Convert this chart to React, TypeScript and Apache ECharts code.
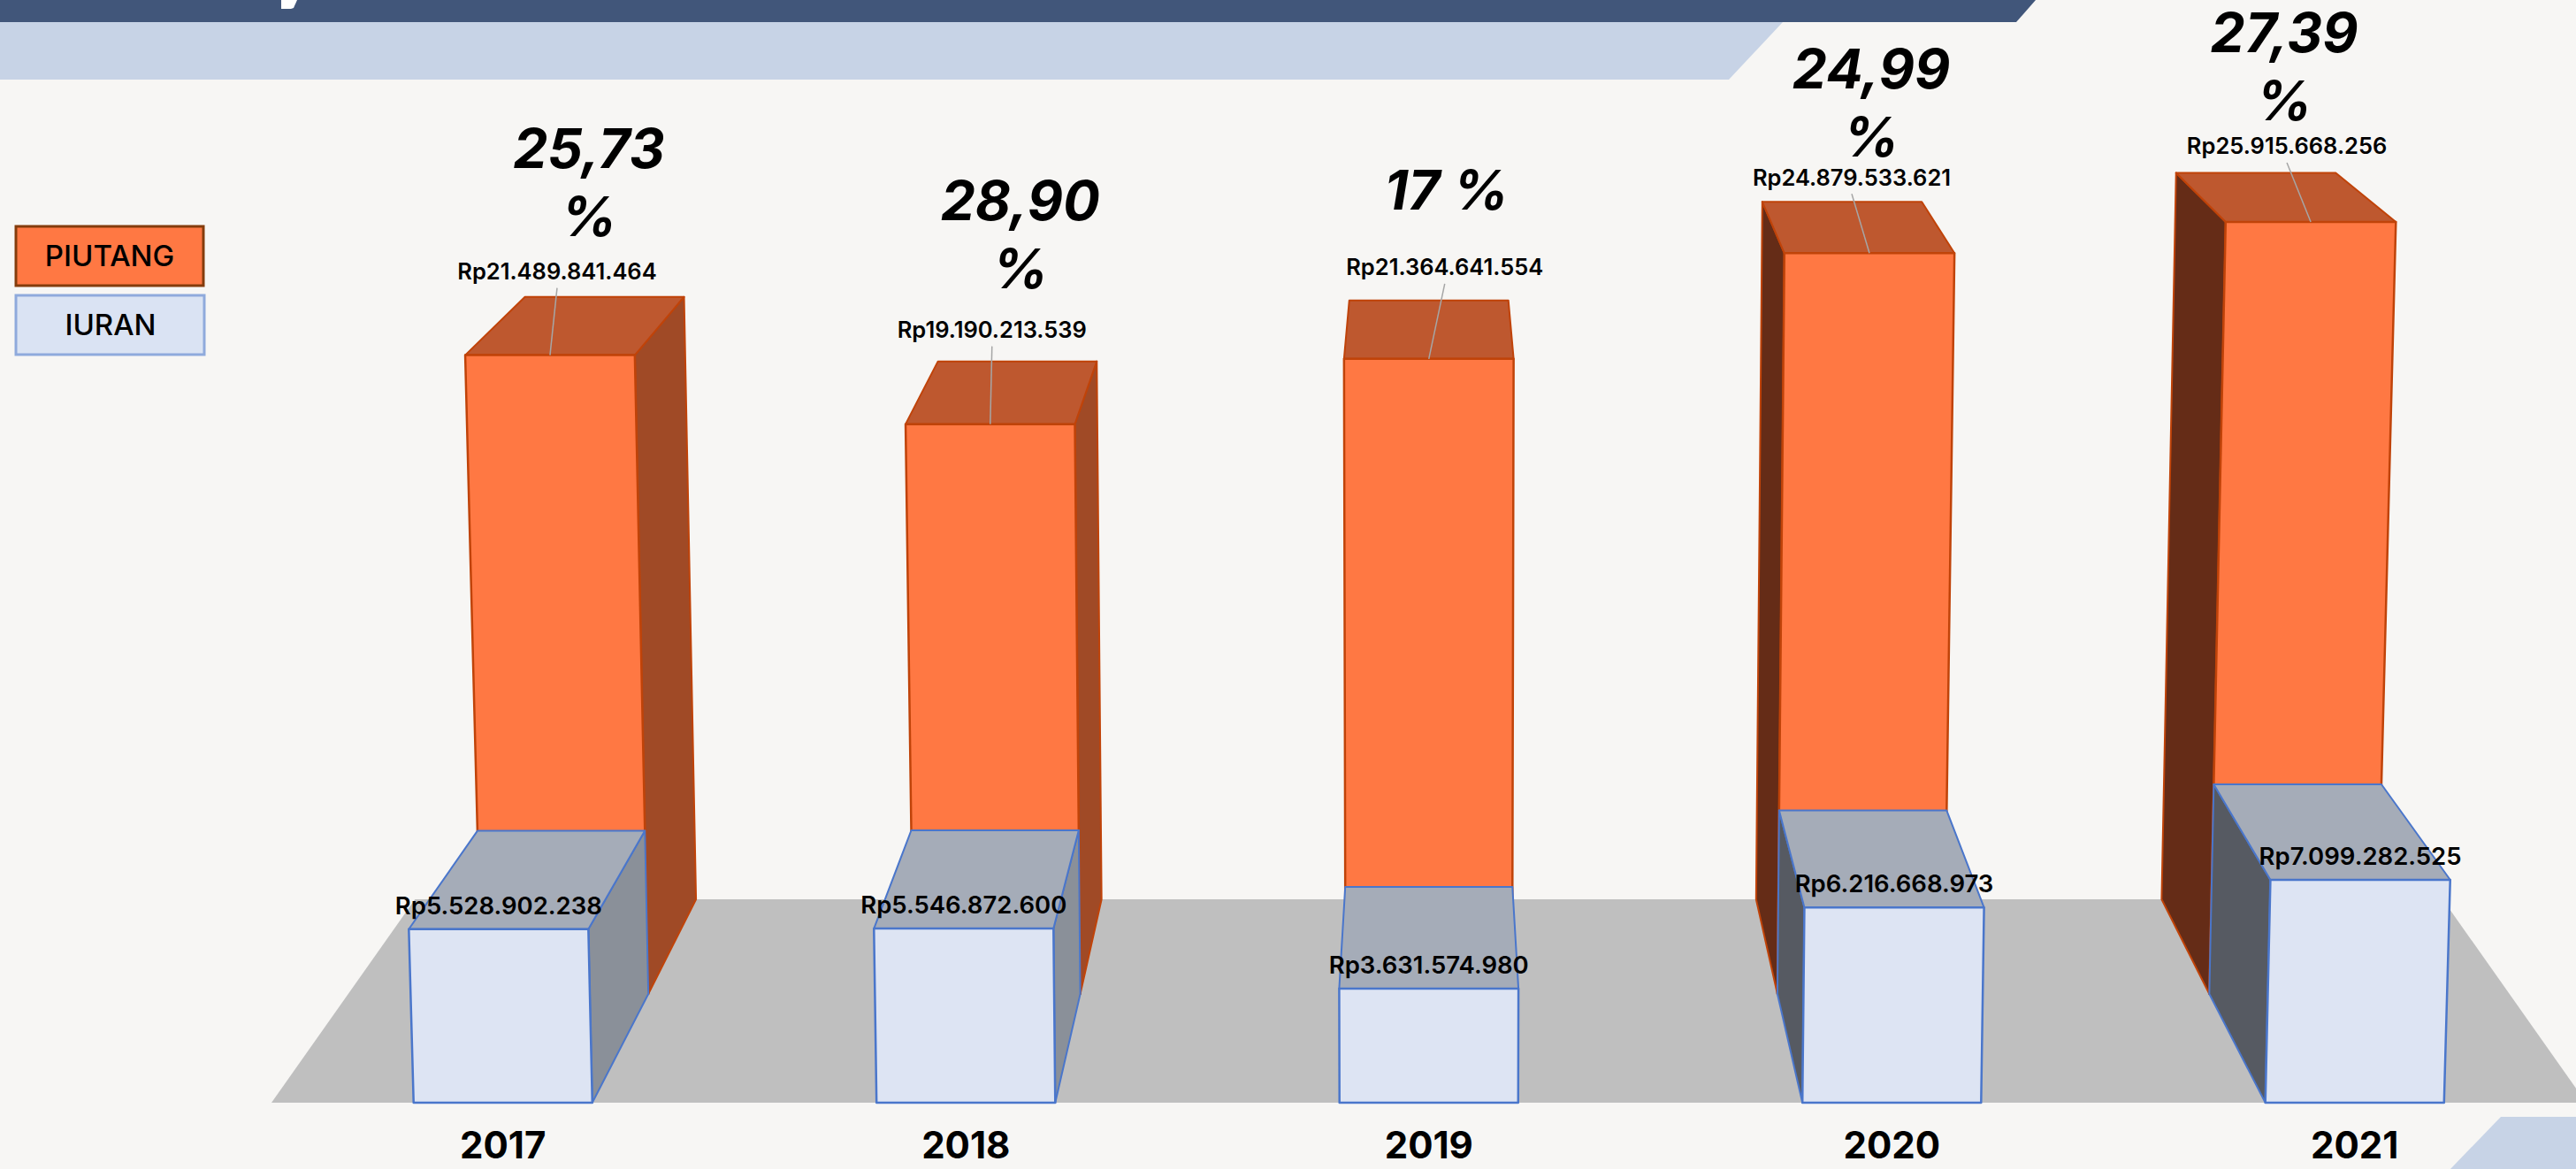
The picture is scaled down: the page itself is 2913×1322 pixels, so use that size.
import React, { useEffect, useRef } from "react";
import * as echarts from "echarts";

const years = ["2017", "2018", "2019", "2020", "2021"];
const piutang = [21489841464, 19190213539, 21364641554, 24879533621, 25915668256];
const iuran = [5528902238, 5546872600, 3631574980, 6216668973, 7099282525];
const percentLabels = ["25,73\n%", "28,90\n%", "17 %", "24,99\n%", "27,39\n%"];

// Perspective of the scene: one entry per depth plane (front, middle, back).
const widthScale = [1, 0.933, 0.876];
const heightScale = [1, 0.937, 0.893];
const heightCurve = [0, 1.3e-5, 0];
const floorRise = [0, 123, 230];
const lean = 2.4e-5;
const barRatio = 0.386;

// Where the annotations sit relative to the top of the PIUTANG front face.
const piutangLabelOffset = [[8, -95], [2, -107], [18, -104], [-20, -86], [-27, -86]];
const percentOffset = [[44, -196], [34, -215], [20, -191], [2, -170], [-30, -176]];

const FONT = "Inter";
const BG = "#F7F6F4";
const BAND_DARK = "#41567A";
const BAND_LIGHT = "#C7D3E6";

const rupiah = (n: number) => "Rp" + String(n).replace(/\B(?=(\d{3})+$)/g, ".");

function projector(params: any, api: any, i: number, value: number) {
  const cs = params.coordSys;
  const cx = cs.x + cs.width / 2;
  const [mx, y] = api.coord([i, value]);
  const base = api.coord([i, 0])[1];
  const half = (api.size([1, 0])[0] * barRatio) / 2;
  const h = base - y;
  const pt = (X: number, top: boolean, d: number) => {
    const H = top ? h * (heightScale[d] + heightCurve[d] * h) : 0;
    return [cx + (X - cx) * widthScale[d] * (1 + lean * H), base - floorRise[d] - H];
  };
  return { pt, L: mx - half, R: mx + half };
}

function box(
  params: any,
  api: any,
  values: number[],
  near: number,
  far: number,
  c: { front: string; top: string; right: string; left: string; stroke: string },
  extra: (i: number, p: number[][]) => any[]
) {
  const i = params.dataIndex;
  const { pt, L, R } = projector(params, api, i, values[i]);
  const poly = (points: number[][], fill: string, lw = 2) => ({
    type: "polygon",
    shape: { points },
    style: { fill, stroke: c.stroke, lineWidth: lw, lineJoin: "round" },
  });
  const fl = [pt(L, true, near), pt(R, true, near), pt(R, false, near), pt(L, false, near)];
  const blt = pt(L, true, far);
  const brt = pt(R, true, far);
  const children: any[] = [];
  if (blt[0] < fl[0][0] - 1) children.push(poly([fl[0], blt, pt(L, false, far), fl[3]], c.left));
  if (brt[0] > fl[1][0] + 1) children.push(poly([fl[1], brt, pt(R, false, far), fl[2]], c.right));
  children.push(poly([fl[0], blt, brt, fl[1]], c.top));
  children.push(poly(fl, c.front, 2.5));
  return { type: "group", children: children.concat(extra(i, fl)) };
}

const textEl = (x: number, y: number, text: string, font: string) => ({
  type: "text",
  z2: 50,
  style: { x, y, text, font, fill: "#000", align: "center", verticalAlign: "middle" },
});

export default function App() {
  const ref = useRef<HTMLDivElement>(null);
  useEffect(() => {
    document.body.style.margin = "0";
    document.body.style.background = BG;
    const chart = echarts.init(ref.current!, undefined, { renderer: "svg" });
    chart.setOption({
      animation: false,
      backgroundColor: BG,
      grid: { left: 307, right: -11.5, top: 182, bottom: 75, containLabel: false, outerBoundsMode: "none" },
      xAxis: {
        type: "category",
        data: years,
        axisLine: { show: false },
        axisTick: { show: false },
        axisLabel: { color: "#000", fontSize: 42, fontWeight: 700, fontFamily: FONT, margin: 26 },
      },
      yAxis: { type: "value", min: 0, max: 30000000000, show: false },
      graphic: [
        { type: "polygon", shape: { points: [[0, 25], [2016, 25], [1955, 90], [0, 90]] }, style: { fill: BAND_LIGHT } },
        { type: "polygon", shape: { points: [[0, 0], [2302, 0], [2280, 25], [0, 25]] }, style: { fill: BAND_DARK } },
        { type: "polygon", shape: { points: [[318, 0], [336, 0], [332, 9], [329, 10], [318, 10]] }, style: { fill: "#fff" } },
        { type: "polygon", shape: { points: [[2771, 1322], [2828, 1263], [2913, 1263], [2913, 1322]] }, style: { fill: BAND_LIGHT } },
        { type: "rect", shape: { x: 18, y: 256, width: 212, height: 67 }, style: { fill: "#FF7843", stroke: "#843C0C", lineWidth: 3 } },
        { type: "text", style: { x: 124, y: 289, text: "PIUTANG", font: "500 33px " + FONT, fill: "#000", align: "center", verticalAlign: "middle" } },
        { type: "rect", shape: { x: 18, y: 334, width: 213, height: 67 }, style: { fill: "#DAE3F3", stroke: "#8FAADC", lineWidth: 3 } },
        { type: "text", style: { x: 125, y: 367, text: "IURAN", font: "500 33px " + FONT, fill: "#000", align: "center", verticalAlign: "middle" } },
      ],
      series: [
        {
          type: "custom",
          name: "floor",
          silent: true,
          clip: false,
          data: [0],
          renderItem: (params: any) => {
            const cs = params.coordSys;
            const cx = cs.x + cs.width / 2;
            const front = cs.y + cs.height;
            const backY = front - floorRise[2];
            const half = (cs.width / 2) * widthScale[2];
            return {
              type: "polygon",
              shape: {
                points: [
                  [cs.x, front],
                  [cs.x + cs.width, front],
                  [cx + half, backY],
                  [cx - half, backY],
                ],
              },
              style: { fill: "#BFBFBF" },
            };
          },
        },
        {
          type: "custom",
          name: "PIUTANG",
          clip: false,
          data: piutang,
          renderItem: (params: any, api: any) =>
            box(
              params,
              api,
              piutang,
              1,
              2,
              { front: "#FF7843", top: "#BE582F", right: "#A04A26", left: "#652C17", stroke: "#C04309" },
              (i, f) => {
                const mx = (f[0][0] + f[1][0]) / 2;
                const my = f[0][1];
                const lx = mx + piutangLabelOffset[i][0];
                const ly = my + piutangLabelOffset[i][1];
                const px = mx + percentOffset[i][0];
                const py = my + percentOffset[i][1];
                return [
                  {
                    type: "line",
                    z2: 40,
                    shape: { x1: lx, y1: ly + 19, x2: mx, y2: my },
                    style: { stroke: "#A6A6A6", lineWidth: 1.5 },
                  },
                  textEl(lx, ly, rupiah(piutang[i]), "600 25.5px " + FONT),
                  {
                    type: "text",
                    z2: 50,
                    style: {
                      x: px,
                      y: py,
                      text: percentLabels[i],
                      font: "italic 700 62px " + FONT,
                      lineHeight: 77,
                      fill: "#000",
                      align: "center",
                      verticalAlign: "middle",
                    },
                  },
                ];
              }
            ),
        },
        {
          type: "custom",
          name: "IURAN",
          clip: false,
          data: iuran,
          renderItem: (params: any, api: any) =>
            box(
              params,
              api,
              iuran,
              0,
              1,
              { front: "#DDE4F3", top: "#A5ACB8", right: "#8A9099", left: "#565A62", stroke: "#4A76CB" },
              (i, f) => [textEl((f[0][0] + f[1][0]) / 2, f[0][1] - 27, rupiah(iuran[i]), "600 27.5px " + FONT)]
            ),
        },
      ],
    });
    return () => chart.dispose();
  }, []);
  return <div ref={ref} style={{ width: 2913, height: 1322 }} />;
}
